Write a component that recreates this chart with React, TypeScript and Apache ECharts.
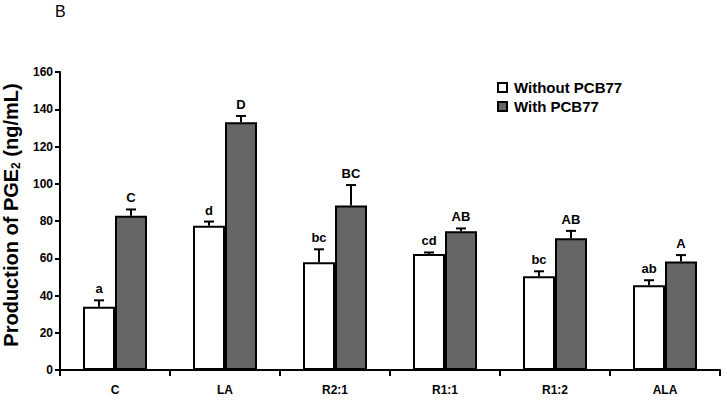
import React, { useEffect, useRef } from "react";
import * as echarts from "echarts";

const categories = ["C", "LA", "R2:1", "R1:1", "R1:2", "ALA"];
const withoutValues = [34, 77.5, 57.8, 62.3, 50.3, 45.5];
const withoutErrors = [3.4, 2.2, 7, 0.8, 2.7, 2.7];
const withoutLetters = ["a", "d", "bc", "cd", "bc", "ab"];
const withValues = [82.8, 133, 88.3, 74.5, 70.7, 58.3];
const withErrors = [3.4, 3.4, 11, 1.5, 4, 3.4];
const withLetters = ["C", "D", "BC", "AB", "AB", "A"];
const yTicks = { min: 0, max: 160, interval: 20 };

const FONT = "'Liberation Sans', Arial, Helvetica, sans-serif";

function errorSeries(values: number[], errors: number[], letters: string[], offset: number) {
  return {
    type: "custom",
    silent: true,
    z: 5,
    data: values.map((v, i) => [i, v, errors[i]]),
    encode: { x: 0, y: 1 },
    renderItem: (params: any, api: any) => {
      const i = api.value(0);
      const v = api.value(1);
      const e = api.value(2);
      const base = api.coord([i, v]);
      const top = api.coord([i, v + e]);
      const x = base[0] + offset;
      const cap = 5;
      return {
        type: "group",
        children: [
          {
            type: "line",
            shape: { x1: x, y1: base[1], x2: x, y2: top[1] },
            style: { stroke: "#000", lineWidth: 2 },
          },
          {
            type: "line",
            shape: { x1: x - cap, y1: top[1], x2: x + cap, y2: top[1] },
            style: { stroke: "#000", lineWidth: 2 },
          },
          {
            type: "text",
            x: x,
            y: top[1] - 5,
            style: {
              text: letters[params.dataIndex],
              align: "center",
              verticalAlign: "bottom",
              fontFamily: FONT,
              fontWeight: "bold",
              fontSize: 13,
              fill: "#000",
            },
          },
        ],
      };
    },
  };
}

export default function App() {
  const ref = useRef<HTMLDivElement>(null);
  useEffect(() => {
    if (!ref.current) return;
    const chart = echarts.init(ref.current, undefined, { renderer: "svg" });
    chart.setOption({
      animation: false,
      backgroundColor: "#fff",
      grid: { left: 60, right: 7, top: 72, bottom: 30, containLabel: false, outerBoundsMode: "none" },
      graphic: [
        {
          type: "text",
          left: 55,
          top: 3,
          style: { text: "B", fontFamily: FONT, fontSize: 16, fill: "#000" },
        },
      ],
      legend: {
        orient: "vertical",
        left: 492,
        top: 75,
        itemWidth: 9,
        itemHeight: 9,
        itemGap: 4,
        icon: "rect",
        textStyle: { fontFamily: FONT, fontWeight: "bold", fontSize: 15, color: "#000", padding: [0, 0, 0, 2] },
        data: ["Without PCB77", "With PCB77"],
      },
      xAxis: {
        type: "category",
        data: categories,
        axisLine: { lineStyle: { color: "#000", width: 2 } },
        axisTick: { show: true, length: 6, lineStyle: { color: "#000", width: 2 } },
        axisLabel: { fontFamily: FONT, fontWeight: "bold", fontSize: 12, color: "#000", margin: 14 },
      },
      yAxis: {
        type: "value",
        min: yTicks.min,
        max: yTicks.max,
        interval: yTicks.interval,
        splitLine: { show: false },
        axisLine: { show: true, lineStyle: { color: "#000", width: 2 } },
        axisTick: { show: true, length: 5, lineStyle: { color: "#000", width: 2 } },
        axisLabel: { fontFamily: FONT, fontWeight: "bold", fontSize: 12, color: "#000", margin: 7 },
        name: "{a|Production of PGE}{s|2}{a| (ng/mL)}",
        nameLocation: "middle",
        nameRotate: 90,
        nameGap: 37,
        nameTextStyle: {
          padding: [0, 0, 0, 12],
          rich: {
            a: { fontFamily: FONT, fontWeight: "bold", fontSize: 20, color: "#000" },
            s: { fontFamily: FONT, fontWeight: "bold", fontSize: 12, color: "#000", padding: [10, 0, 0, 0] },
          },
        },
      },
      series: [
        {
          name: "Without PCB77",
          type: "bar",
          data: withoutValues,
          barWidth: 32,
          barGap: "0%",
          itemStyle: { color: "#fff", borderColor: "#000", borderWidth: 2 },
        },
        {
          name: "With PCB77",
          type: "bar",
          data: withValues,
          barWidth: 32,
          barGap: "0%",
          itemStyle: { color: "#666", borderColor: "#000", borderWidth: 2 },
        },
        errorSeries(withoutValues, withoutErrors, withoutLetters, -16),
        errorSeries(withValues, withErrors, withLetters, 16),
      ],
    });
    return () => chart.dispose();
  }, []);
  return <div ref={ref} style={{ width: 727, height: 400, position: "absolute", left: 0, top: 0 }} />;
}
